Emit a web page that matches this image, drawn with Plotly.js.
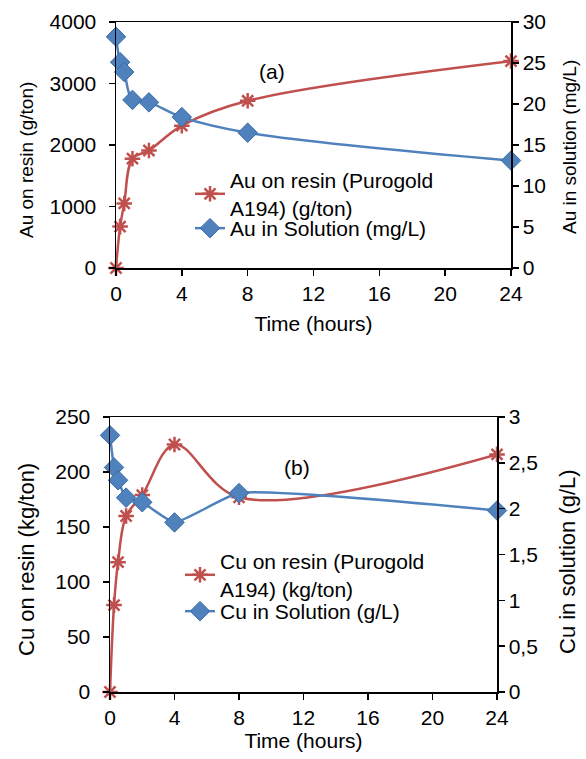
<!DOCTYPE html>
<html>
<head>
<meta charset="utf-8">
<script src="https://cdn.plot.ly/plotly-3.0.1.min.js"></script>
<style>html,body{margin:0;padding:0;background:#fff}#chart{width:586px;height:759px}</style>
</head>
<body>
<div id="chart"></div>
<script>
// ---- data ----
const timeHours = [0, 0.25, 0.5, 1, 2, 4, 8, 24];
const auOnResin = [0, 673, 1050, 1777, 1911, 2315, 2719, 3365];
const auInSolution = [28.2, 25.1, 23.9, 20.5, 20.2, 18.4, 16.5, 13.1];
const cuOnResin = [0, 79, 118, 160, 179, 225, 177, 216];
const cuInSolution = [2.80, 2.45, 2.31, 2.12, 2.07, 1.85, 2.17, 1.98];

const xTickVals = [0, 4, 8, 12, 16, 20, 24];
const cuSolTickVals = [0, 0.5, 1, 1.5, 2, 2.5, 3];
const cuSolTickText = ['0', '0,5', '1', '1,5', '2', '2,5', '3'];

const names = {
  auResin: 'Au on resin (Purogold<br>A194) (g/ton)',
  auSol: 'Au in Solution (mg/L)',
  cuResin: 'Cu on resin (Purogold<br>A194) (kg/ton)',
  cuSol: 'Cu in Solution (g/L)'
};
const axisTitles = {
  time: 'Time (hours)',
  auResin: 'Au on resin (g/ton)',
  auSol: 'Au in solution (mg/L)',
  cuResin: 'Cu on resin (kg/ton)',
  cuSol: 'Cu in solution (g/L)'
};

// ---- styles ----
const RED = '#C0504D';
const BLUE = '#4F81BD';
const FONT = 'Liberation Sans, Arial, sans-serif';
const FS = 21;
const W = 586, H = 759;

function redTrace(y, xa, ya, name, legend, smoothing) {
  return {
    x: timeHours, y: y, xaxis: xa, yaxis: ya, name: name, legend: legend,
    type: 'scatter', mode: 'lines+markers', cliponaxis: false,
    line: {color: RED, width: 2.5, shape: 'spline', smoothing: smoothing},
    marker: {symbol: 'asterisk-open', size: 13, color: RED, line: {color: RED, width: 2.5}}
  };
}
function blueTrace(y, xa, ya, name, legend, smoothing) {
  return {
    x: timeHours, y: y, xaxis: xa, yaxis: ya, name: name, legend: legend,
    type: 'scatter', mode: 'lines+markers', cliponaxis: false,
    line: {color: BLUE, width: 2.5, shape: 'spline', smoothing: smoothing},
    marker: {symbol: 'diamond', size: 15, color: BLUE, line: {color: '#3a6aa5', width: 1}}
  };
}

const data = [
  redTrace(auOnResin, 'x', 'y', names.auResin, 'legend', 1),
  blueTrace(auInSolution, 'x', 'y2', names.auSol, 'legend2', 1),
  redTrace(cuOnResin, 'x2', 'y3', names.cuResin, 'legend3', 1),
  blueTrace(cuInSolution, 'x2', 'y4', names.cuSol, 'legend4', 0.45)
];

const axBase = {
  showline: true, linecolor: '#000', linewidth: 1.5,
  ticks: 'outside', ticklen: 6, tickwidth: 1.5, tickcolor: '#000',
  showgrid: false, zeroline: false,
  tickfont: {family: FONT, size: FS, color: '#000'},
  fixedrange: true
};
function ax(extra) { return Object.assign({}, axBase, extra); }

const topX = [116 / W, 511 / W];
const topY = [1 - 268 / H, 1 - 22 / H];
const botX = [110 / W, 497 / W];
const botY = [1 - 692 / H, 1 - 417 / H];

const titleFont = {family: FONT, size: FS, color: '#000'};

function legendAt(px, pyCenter) {
  return {x: px / W, y: 1 - (pyCenter - 22) / H, xanchor: 'left', yanchor: 'top',
    bgcolor: 'rgba(0,0,0,0)', font: {family: FONT, size: FS, color: '#000'}};
}
function vTitle(text, px, py, size) {
  return {text: text, x: px / W, y: 1 - py / H, xref: 'paper', yref: 'paper',
    xanchor: 'center', yanchor: 'middle', textangle: -90, showarrow: false,
    font: {family: FONT, size: size, color: '#000'}};
}

const layout = {
  width: W, height: H,
  margin: {l: 0, r: 0, t: 0, b: 0},
  paper_bgcolor: '#fff', plot_bgcolor: 'rgba(0,0,0,0)',
  font: {family: FONT, size: FS, color: '#000'},
  showlegend: true,
  xaxis: ax({domain: topX, anchor: 'y', range: [0, 24], tickvals: xTickVals, mirror: true,
    title: {text: axisTitles.time, font: titleFont, standoff: 12}}),
  xaxis3: ax({domain: topX, anchor: 'y', overlaying: 'x', range: [0, 24], tickvals: xTickVals,
    ticks: 'inside', showticklabels: false, showline: false}),
  yaxis: ax({domain: topY, anchor: 'x', range: [0, 4000], dtick: 1000, ticklabelstandoff: 8}),
  yaxis2: ax({domain: topY, anchor: 'x', overlaying: 'y', side: 'right', range: [0, 30], dtick: 5}),
  xaxis2: ax({domain: botX, anchor: 'y3', range: [0, 24], tickvals: xTickVals, mirror: true,
    title: {text: axisTitles.time, font: titleFont, standoff: 5}}),
  xaxis4: ax({domain: botX, anchor: 'y3', overlaying: 'x2', range: [0, 24], tickvals: xTickVals,
    ticks: 'inside', showticklabels: false, showline: false}),
  yaxis3: ax({domain: botY, anchor: 'x2', range: [0, 250], dtick: 50, ticklabelstandoff: 8}),
  yaxis4: ax({domain: botY, anchor: 'x2', overlaying: 'y3', side: 'right', range: [0, 3],
    tickvals: cuSolTickVals, ticktext: cuSolTickText}),
  legend: legendAt(190, 182),
  legend2: legendAt(190, 230),
  legend3: legendAt(180, 563),
  legend4: legendAt(180, 613),
  annotations: [
    {text: '(a)', x: 9.5, y: 3190, xref: 'x', yref: 'y', showarrow: false, font: {family: FONT, size: FS, color: '#000'}},
    {text: '(b)', x: 11.6, y: 204, xref: 'x2', yref: 'y3', showarrow: false, font: {family: FONT, size: FS, color: '#000'}},
    vTitle(axisTitles.auResin, 27, 160, 19),
    vTitle(axisTitles.auSol, 569, 147, 19),
    vTitle(axisTitles.cuResin, 26, 560, 22),
    vTitle(axisTitles.cuSol, 567, 562, 22)
  ]
};

Plotly.newPlot('chart', data, layout, {staticPlot: true, displayModeBar: false});
</script>
</body>
</html>
